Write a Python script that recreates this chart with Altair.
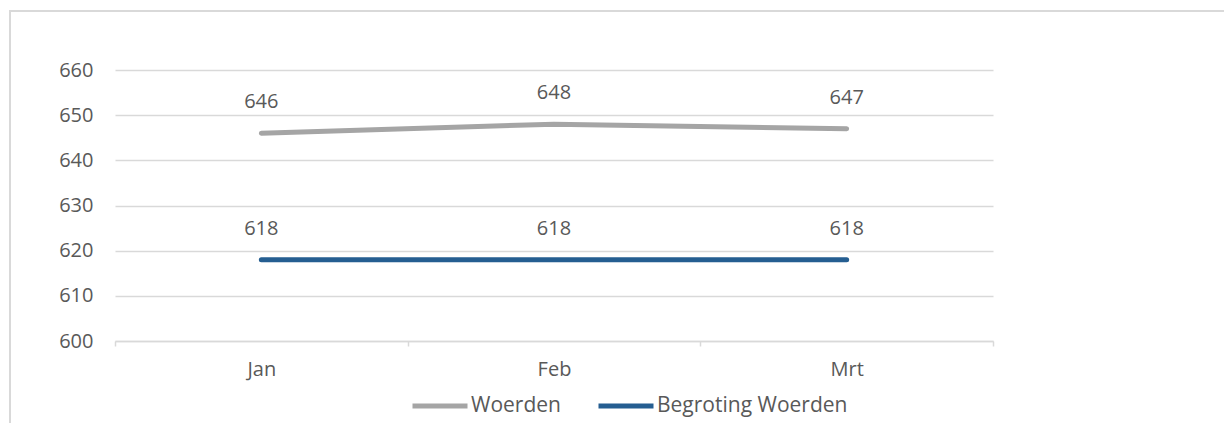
import altair as alt
import pandas as pd

months = ["Jan", "Feb", "Mrt"]
woerden = [646, 648, 647]
begroting = [618, 618, 618]
series_names = ["Woerden", "Begroting Woerden"]
series_colors = ["#a5a5a5", "#255e91"]
y_ticks = [600, 610, 620, 630, 640, 650, 660]

rows = []
for m, v in zip(months, woerden):
    rows.append({"maand": m, "waarde": v, "reeks": series_names[0]})
for m, v in zip(months, begroting):
    rows.append({"maand": m, "waarde": v, "reeks": series_names[1]})
df = pd.DataFrame(rows)

FONT = "Open Sans"
TXT = "#595959"
GRID = "#d9d9d9"
FS = 20

x_enc = alt.X(
    "maand:N",
    sort=months,
    title=None,
    scale=alt.Scale(type="band", paddingInner=0, paddingOuter=0),
    axis=alt.Axis(
        tickBand="extent",
        labelAngle=0,
        domainColor=GRID,
        domainWidth=1.5,
        tickColor=GRID,
        tickWidth=1.5,
        tickSize=5,
        labelPadding=13,
        labelFontSize=FS,
        labelColor=TXT,
        labelFont=FONT,
        grid=False,
    ),
)
y_enc = alt.Y(
    "waarde:Q",
    title=None,
    scale=alt.Scale(domain=[600, 660], nice=False, zero=False),
    axis=alt.Axis(
        values=y_ticks,
        domain=False,
        ticks=False,
        gridColor=GRID,
        gridWidth=1.5,
        labelPadding=22,
        labelFontSize=FS,
        labelColor=TXT,
        labelFont=FONT,
    ),
)
color_enc = alt.Color(
    "reeks:N",
    sort=series_names,
    scale=alt.Scale(domain=series_names, range=series_colors),
    legend=alt.Legend(
        title=None,
        orient="none",
        direction="horizontal",
        legendX=295,
        legendY=306,
        symbolType="stroke",
        symbolSize=3025,
        symbolStrokeWidth=5,
        labelFontSize=21,
        labelFont=FONT,
        labelColor=TXT,
        labelOffset=1,
        labelLimit=0,
        columnPadding=27,
    ),
)

base = alt.Chart(df).encode(x=x_enc, y=y_enc)

lines = base.mark_line(strokeWidth=5, strokeCap="round").encode(color=color_enc)
labels = base.mark_text(dy=-31, fontSize=FS, font=FONT, color=TXT).encode(
    text=alt.Text("waarde:Q")
)

border = alt.Chart(pd.DataFrame({"a": [0]})).mark_rect(
    fill=None, stroke=GRID, strokeWidth=2
).encode(
    x=alt.value(-105), x2=alt.value(1300), y=alt.value(-59), y2=alt.value(600)
)

chart = alt.layer(border, lines, labels).properties(
    width=878,
    height=271,
    autosize=alt.AutoSizeParams(type="none"),
    padding={"left": 107, "top": 62, "right": 231, "bottom": 82},
).configure_view(stroke=None)

chart.save("out.html", embed_options={"renderer": "svg", "actions": False})
